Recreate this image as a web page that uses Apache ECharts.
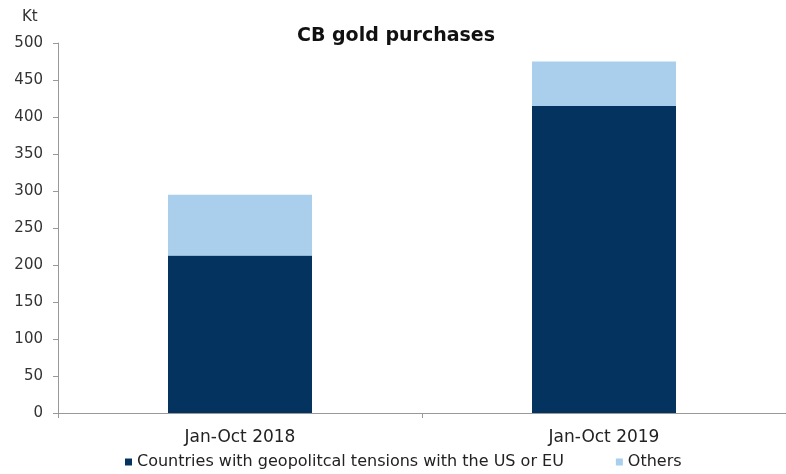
<!DOCTYPE html>
<html><head><meta charset="utf-8">
<script src="https://cdn.jsdelivr.net/npm/echarts@6/dist/echarts.min.js"></script>
<style>html,body{margin:0;padding:0;background:#fff}#c{width:786px;height:474px}</style>
</head><body><div id="c"></div>
<script>
const categories = ['Jan-Oct 2018', 'Jan-Oct 2019'];
const geopolitical = [213, 415];
const others = [82, 60];
const seriesNames = ['Countries with geopolitcal tensions with the US or EU', 'Others'];
const yTicks = {min: 0, max: 500, interval: 50};

const chart = echarts.init(document.getElementById('c'));
const font = 'DejaVu Sans, Verdana, sans-serif';
chart.setOption({
  animation: false,
  backgroundColor: '#fff',
  title: {text: 'CB gold purchases', left: 391, top: 22, textAlign: 'center',
    textStyle: {fontFamily: font, fontSize: 19, fontWeight: 'bold', color: '#111'}},
  graphic: [{type: 'text', left: 22, top: 10, style: {text: 'Kt', font: '15px ' + font, fill: '#333'}}],
  legend: {top: 449, left: 120, itemWidth: 7, itemHeight: 7, itemGap: 52, icon: 'rect',
    textStyle: {fontFamily: font, fontSize: 16, color: '#222'}, data: seriesNames},
  grid: {left: 58, top: 43, width: 732, height: 370, containLabel: false},
  xAxis: {type: 'category', data: categories,
    axisLine: {lineStyle: {color: '#999'}},
    axisTick: {show: true, alignWithLabel: false, length: 5, lineStyle: {color: '#999'}},
    axisLabel: {fontFamily: font, fontSize: 17, color: '#222', margin: 16}},
  yAxis: {type: 'value', min: yTicks.min, max: yTicks.max, interval: yTicks.interval,
    axisLine: {show: true, lineStyle: {color: '#999'}},
    axisTick: {show: true, length: 5, lineStyle: {color: '#999'}},
    splitLine: {show: false},
    axisLabel: {fontFamily: font, fontSize: 15, color: '#333', margin: 15}},
  series: [
    {name: seriesNames[0], type: 'bar', stack: 'a', data: geopolitical, barWidth: 144,
      itemStyle: {color: '#04335F'}},
    {name: seriesNames[1], type: 'bar', stack: 'a', data: others, barWidth: 144,
      itemStyle: {color: '#AACFEC'}}
  ]
});
</script></body></html>
